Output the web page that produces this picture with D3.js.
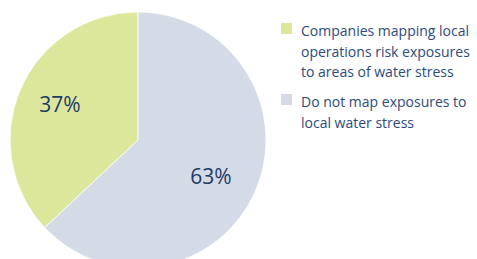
<!DOCTYPE html>
<html><head><meta charset="utf-8">
<script src="https://cdn.jsdelivr.net/npm/d3@7"></script>
<style>body{margin:0;background:#fff}svg{display:block}</style>
</head><body>
<script>
const categories = ["Companies mapping local operations risk exposures to areas of water stress", "Do not map exposures to local water stress"];
const values = [37, 63];
const labels = ["37%", "63%"];
const legendLines = [["Companies mapping local", "operations risk exposures", "to areas of water stress"], ["Do not map exposures to", "local water stress"]];
const colors = ["#dde79c", "#d5dbe6"];

const W = 477, H = 259;
const svg = d3.select("body").append("svg").attr("width", W).attr("height", H);
const cx = 138, cy = 140, R = 128;

// Green slice goes counter-clockwise from 12 o'clock; grey clockwise
const pie = d3.pie().sort(null).value(d => d.v)
  .startAngle(-2 * Math.PI * values[0] / 100).endAngle(2 * Math.PI - 2 * Math.PI * values[0] / 100);
const data = pie(values.map((v, i) => ({v, i})));
const arc = d3.arc().innerRadius(0).outerRadius(R);
const g = svg.append("g").attr("transform", `translate(${cx},${cy})`);
g.selectAll("path").data(data).join("path")
  .attr("d", arc).attr("fill", d => colors[d.data.i])
  .attr("stroke", "#fff").attr("stroke-width", 0.8);

const labelPos = [[-78, -28], [73, 44]];
g.selectAll("text").data(data).join("text")
  .attr("x", (d, i) => labelPos[i][0]).attr("y", (d, i) => labelPos[i][1])
  .attr("text-anchor", "middle")
  .attr("font-family", "Open Sans, sans-serif").attr("font-size", 21)
  .attr("fill", "#1f3a68")
  .text((d, i) => labels[i]);

const legendY = [36, 107];
const leg = svg.append("g");
legendLines.forEach((lines, i) => {
  leg.append("rect").attr("x", 281).attr("y", legendY[i] - 13).attr("width", 11).attr("height", 11).attr("fill", colors[i]);
  const t = leg.append("text").attr("font-family", "Open Sans, sans-serif").attr("font-size", 14).attr("fill", "#2c4a7c");
  lines.forEach((l, j) => t.append("tspan").attr("x", 301).attr("y", legendY[i] + j * 20.5).text(l));
});
</script>
</body></html>
